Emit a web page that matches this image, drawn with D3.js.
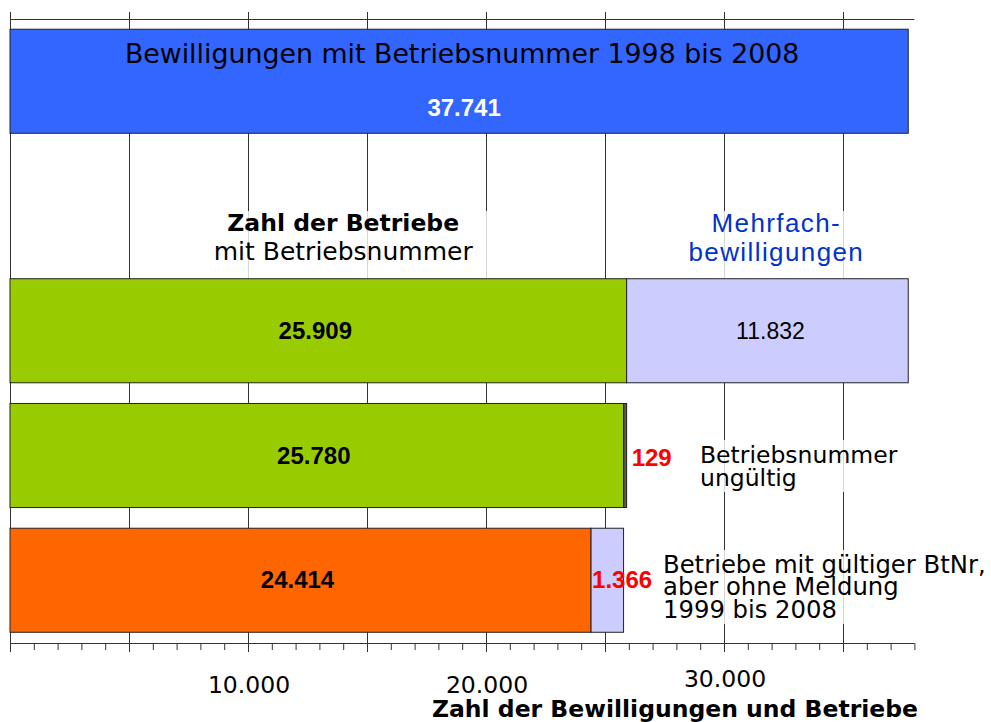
<!DOCTYPE html>
<html>
<head>
<meta charset="utf-8">
<script src="https://cdn.jsdelivr.net/npm/d3@7/dist/d3.min.js"></script>
<style>
  body { margin: 0; background: #fff; }
</style>
</head>
<body>
<div id="chart"></div>
<script>
// rows of the chart (the "labels" row only holds the two headings)
const rowKeys = ['bewilligungen', 'labels', 'betriebe', 'gueltig', 'meldung'];
const barKeys = ['bewilligungen', 'betriebe', 'gueltig', 'meldung'];
const baseValues = [37741, 25909, 25780, 24414];
const restValues = [0, 11832, 129, 1366];
const xTickLabels = [10000, 20000, 30000];
const xMax = 38000;

const baseColors = ['#3366ff', '#99cc00', '#99cc00', '#ff6600'];
const restColors = [null, '#ccccff', '#555555', '#ccccff'];

const sans = "'DejaVu Sans', sans-serif";
const arial = "'Liberation Sans', Arial, sans-serif";

const de = d3.formatLocale({ decimal: ',', thousands: '.', grouping: [3], currency: ['', ' €'] });
const fmt = de.format(',d');

const width = 991, height = 722;
const svg = d3.select('#chart').append('svg')
  .attr('width', width)
  .attr('height', height);

const x = d3.scaleLinear().domain([0, xMax]).range([10, 914.4]);
const y = d3.scaleBand().domain(rowKeys).range([18.5, 643])
  .paddingInner(0.166).paddingOuter(0.086);
const axisY = 643;

// grid
const grid = svg.append('g').attr('stroke', '#333').attr('stroke-width', 1);
grid.selectAll('line.v')
  .data(d3.range(0, xMax, 5000))
  .enter().append('line')
  .attr('class', 'v')
  .attr('x1', d => Math.round(x(d)) + 0.5)
  .attr('x2', d => Math.round(x(d)) + 0.5)
  .attr('y1', 12)
  .attr('y2', axisY);
grid.append('line')
  .attr('x1', x(0)).attr('x2', x(xMax))
  .attr('y1', 19.5).attr('y2', 19.5);

// half transparent boxes behind the annotations
const boxes = [
  [205, 211, 285, 68],
  [682, 211, 192, 68],
  [695, 440, 212, 52],
  [655, 550, 336, 74]
];
svg.append('g').selectAll('rect')
  .data(boxes)
  .enter().append('rect')
  .attr('x', d => d[0]).attr('y', d => d[1])
  .attr('width', d => d[2]).attr('height', d => d[3])
  .attr('fill', '#fff').attr('fill-opacity', 0.8);

// axis: minor ticks, major ticks, labels
const axisG = svg.append('g').attr('transform', `translate(0,${axisY})`);
axisG.append('g')
  .call(d3.axisBottom(x).tickValues(d3.range(0, xMax + 1, 1000)).tickSize(7).tickFormat(''))
  .call(g => g.select('.domain').remove());
axisG.append('g')
  .call(d3.axisBottom(x).tickValues(d3.range(0, xMax, 5000)).tickSize(9).tickFormat('').tickSizeOuter(0))
  .call(g => g.select('.domain').remove());
axisG.selectAll('.tick line').attr('stroke', '#333');
axisG.append('line')
  .attr('x1', x(0)).attr('x2', x(xMax))
  .attr('y1', 0.5).attr('y2', 0.5)
  .attr('stroke', '#333');

svg.append('g')
  .selectAll('text')
  .data(xTickLabels)
  .enter().append('text')
  .attr('x', d => x(d) + 1)
  .attr('y', d => d === 30000 ? 687 : 693)
  .attr('text-anchor', 'middle')
  .attr('font-family', sans)
  .attr('font-size', 23.5)
  .text(d => fmt(d));

svg.append('text')
  .attr('x', 918).attr('y', 717)
  .attr('text-anchor', 'end')
  .attr('font-family', sans)
  .attr('font-size', 23.5)
  .attr('font-weight', 'bold')
  .text('Zahl der Bewilligungen und Betriebe');

// bars
const bars = svg.append('g').attr('stroke', '#222').attr('stroke-width', 1);
bars.selectAll('rect.base')
  .data(barKeys)
  .enter().append('rect')
  .attr('class', 'base')
  .attr('x', x(0))
  .attr('y', d => y(d))
  .attr('width', (d, i) => x(baseValues[i]) - x(0))
  .attr('height', y.bandwidth())
  .attr('fill', (d, i) => baseColors[i]);
bars.selectAll('rect.rest')
  .data(barKeys.filter((d, i) => restValues[i] > 0))
  .enter().append('rect')
  .attr('class', 'rest')
  .attr('x', d => x(baseValues[barKeys.indexOf(d)]))
  .attr('y', d => y(d))
  .attr('width', d => { const i = barKeys.indexOf(d); return x(baseValues[i] + restValues[i]) - x(baseValues[i]); })
  .attr('height', y.bandwidth())
  .attr('fill', d => restColors[barKeys.indexOf(d)]);

// top bar texts
const topBarY = y('bewilligungen');
svg.append('text')
  .attr('x', (x(0) + x(baseValues[0])) / 2 + 3).attr('y', topBarY + 34)
  .attr('text-anchor', 'middle')
  .attr('font-family', sans).attr('font-size', 26.8)
  .text('Bewilligungen mit Betriebsnummer 1998 bis 2008');
svg.append('text')
  .attr('x', (x(0) + x(baseValues[0])) / 2 + 5).attr('y', topBarY + 87)
  .attr('text-anchor', 'middle')
  .attr('font-family', arial).attr('font-size', 24).attr('font-weight', 'bold')
  .attr('fill', '#fff')
  .text(fmt(baseValues[0]));

// value labels of the lower bars
barKeys.slice(1).forEach((k, j) => {
  const i = j + 1;
  const cy = y(k) + y.bandwidth() / 2 + 8;
  svg.append('text')
    .attr('x', (x(0) + x(baseValues[i])) / 2 - 3)
    .attr('y', cy)
    .attr('text-anchor', 'middle')
    .attr('font-family', arial).attr('font-size', 24).attr('font-weight', 'bold')
    .text(fmt(baseValues[i]));
});
const midBar = y('betriebe') + y.bandwidth() / 2 + 8;
svg.append('text')
  .attr('x', (x(baseValues[1]) + x(baseValues[1] + restValues[1])) / 2 + 3)
  .attr('y', midBar)
  .attr('text-anchor', 'middle')
  .attr('font-family', arial).attr('font-size', 23)
  .text(fmt(restValues[1]));
svg.append('text')
  .attr('x', x(baseValues[2] + restValues[2]) + 5)
  .attr('y', y('gueltig') + y.bandwidth() / 2 + 10)
  .attr('font-family', arial).attr('font-size', 24).attr('font-weight', 'bold')
  .attr('fill', '#ff0000')
  .text(fmt(restValues[2]));
svg.append('text')
  .attr('x', x(baseValues[3]) + 1)
  .attr('y', y('meldung') + y.bandwidth() / 2 + 8)
  .attr('font-family', arial).attr('font-size', 24).attr('font-weight', 'bold')
  .attr('fill', '#ff0000')
  .text(fmt(restValues[3]));

// headings and side notes
const headTop = y('betriebe');
function lines(xp, ys, arr, opts) {
  const t = svg.append('text')
    .attr('font-family', opts.family || sans)
    .attr('fill', opts.fill || '#000')
    .attr('letter-spacing', opts.spacing || null)
    .attr('text-anchor', opts.anchor || 'start');
  arr.forEach((s, i) => {
    t.append('tspan')
      .attr('x', xp).attr('y', ys[i])
      .attr('font-size', Array.isArray(opts.size) ? opts.size[i] : opts.size)
      .attr('font-weight', opts.bold && opts.bold[i] ? 'bold' : null)
      .text(s);
  });
}
lines(x(14000), [headTop - 48, headTop - 19], ['Zahl der Betriebe', 'mit Betriebsnummer'],
  { size: [23.5, 25], anchor: 'middle', bold: [true, false] });
lines(x(32200), [headTop - 47, headTop - 18], ['Mehrfach-', 'bewilligungen'],
  { size: 26, anchor: 'middle', fill: '#0033cc', family: arial, spacing: 1.4 });
lines(700, [463, 485.5], ['Betriebsnummer', 'ungültig'], { size: 23.5 });
lines(663, [573, 595.3, 617.6], ['Betriebe mit gültiger BtNr,', 'aber ohne Meldung', '1999 bis 2008'], { size: 24.3 });
</script>
</body>
</html>
